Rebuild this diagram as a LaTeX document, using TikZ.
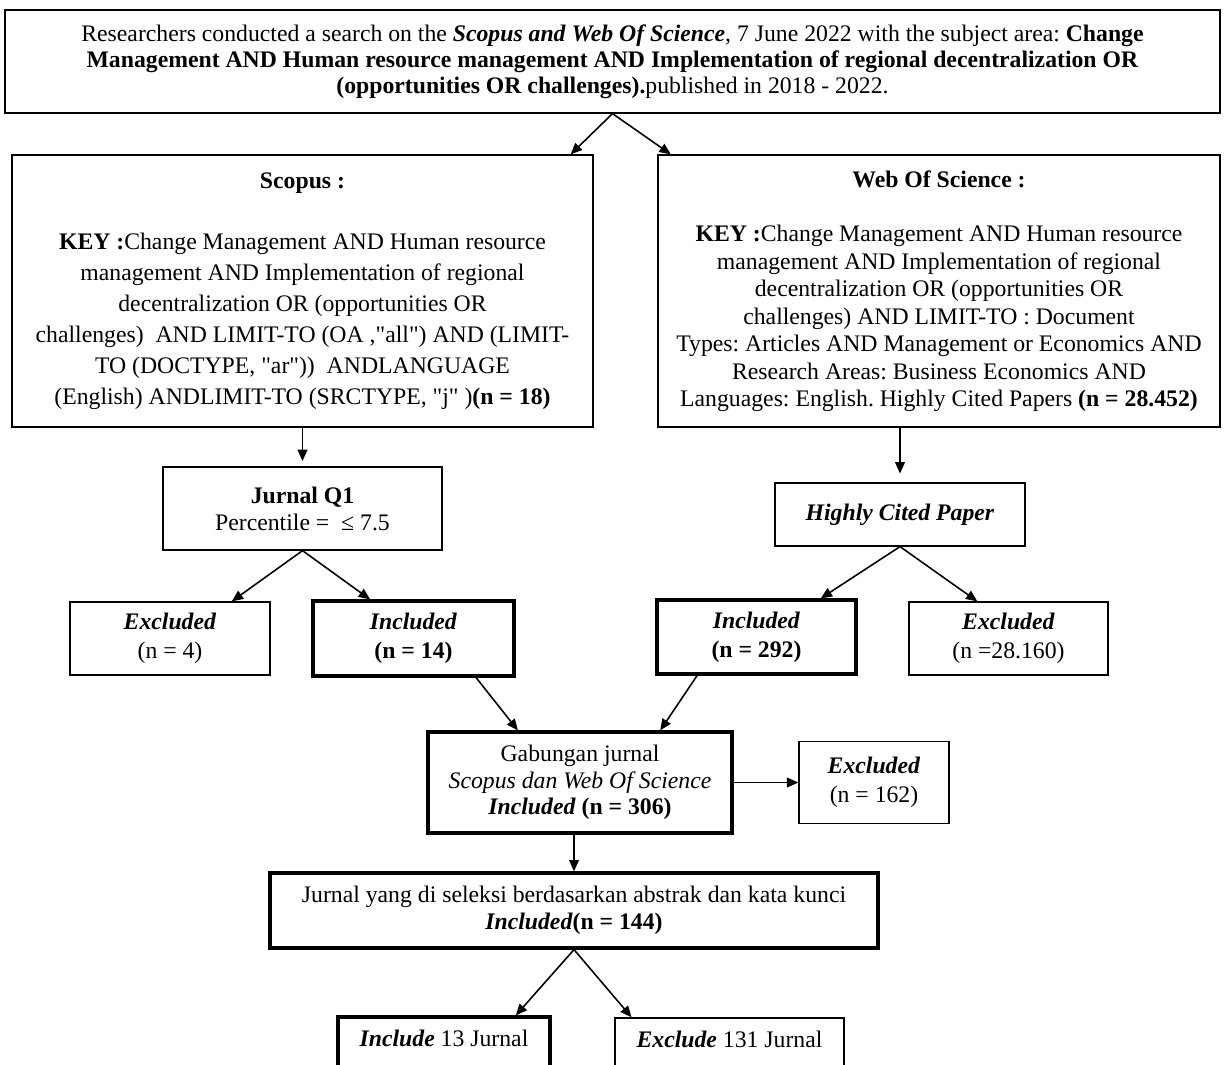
\documentclass[tikz,border=0pt]{standalone}
\usepackage{fontspec}
\setmainfont{Liberation Serif}[Ligatures=TeXOff]
\usepackage{tikz}
\usetikzlibrary{positioning}
\usetikzlibrary{arrows.meta}
\frenchspacing
\tikzstyle{box} = [rectangle, draw=black, line width=0.7pt, text centered, align=center, inner sep=2pt, font=\fontsize{13.5}{15.4}\selectfont]
\tikzstyle{boldbox} = [box, line width=1.8pt]
\tikzstyle{arrow} = [line width=0.9pt,->,>={Triangle[length=6.5pt,width=5.5pt]}]

\begin{document}
\begin{tikzpicture}[node distance=1cm]
    \useasboundingbox (0,0) rectangle (24.5,-21.3);
    \fill [white] (0,0) rectangle (24.5,-21.3);
        \node (search) [box, minimum width=24.3cm, minimum height=2.06cm, font=\fontsize{13.5}{14.8}\selectfont] at (12.25,-1.23) {Researchers conducted a search on the \textbf{\textit{Scopus and Web Of Science}}, 7 June 2022 with the subject area: \textbf{Change}\\ \textbf{Management AND Human resource management AND Implementation of regional decentralization OR}\\ \textbf{(opportunities OR challenges).}published in 2018 - 2022.};
        \node (scopus) [box, below of=search, xshift=-6.2cm, yshift=-3.59cm, minimum width=11.62cm, minimum height=5.44cm, font=\fontsize{13.5}{17.6}\selectfont] {\textbf{Scopus :}\\ ~\\ \textbf{KEY :}Change Management AND Human resource\\ management AND Implementation of regional\\ decentralization OR (opportunities OR\\ challenges)\ \ AND LIMIT-TO (OA ,"all") AND (LIMIT-\\ TO (DOCTYPE, "ar"))\ \ ANDLANGUAGE\\ (English) ANDLIMIT-TO (SRCTYPE, "j" )\textbf{(n = 18)}};
        \node (wos) [box, right of=scopus, xshift=11.73cm, minimum width=11.24cm, minimum height=5.44cm, font=\fontsize{13.5}{15.6}\selectfont] {\textbf{Web Of Science :}\\ ~\\ \textbf{KEY :}Change Management AND Human resource\\ management AND Implementation of regional\\ decentralization OR (opportunities OR\\ challenges) AND LIMIT-TO : Document\\ Types: Articles AND Management or Economics AND\\ Research Areas: Business Economics AND\\ Languages: English. Highly Cited Papers \textbf{(n = 28.452)}};
        \node (q1) [box, below of=scopus, yshift=-3.35cm, minimum width=5.58cm, minimum height=1.66cm] {\textbf{Jurnal Q1}\\ Percentile = \ ≤ 7.5};
        \node (cited) [box, below of=wos, xshift=-0.78cm, yshift=-3.47cm, minimum width=5cm, minimum height=1.26cm] {\textbf{\textit{Highly Cited Paper}}};
        \node (excScopus) [box, below of=q1, xshift=-2.65cm, yshift=-1.6cm, minimum width=4cm, minimum height=1.46cm, font=\fontsize{13.5}{16.5}\selectfont] {\textbf{\textit{Excluded}}\\ (n = 4)};
        \node (incScopus) [boldbox, below of=q1, xshift=2.22cm, yshift=-1.6cm, minimum width=4.02cm, minimum height=1.5cm, font=\fontsize{13.5}{16.5}\selectfont] {\textbf{\textit{Included}}\\ \textbf{(n = 14)}};
        \node (incWos) [boldbox, below of=cited, xshift=-2.87cm, yshift=-1.45cm, minimum width=3.98cm, minimum height=1.48cm, font=\fontsize{13.5}{16.5}\selectfont] {\textbf{\textit{Included}}\\ \textbf{(n = 292)}};
        \node (excWos) [box, below of=cited, xshift=2.17cm, yshift=-1.48cm, minimum width=3.98cm, minimum height=1.46cm, font=\fontsize{13.5}{16.5}\selectfont] {\textbf{\textit{Excluded}}\\ (n =28.160)};
        \node (merged) [boldbox, below of=incScopus, xshift=3.33cm, yshift=-1.88cm, minimum width=6.08cm, minimum height=2.02cm, font=\fontsize{13.5}{15.1}\selectfont] {Gabungan jurnal\\ \textit{Scopus dan Web Of Science}\\ \textbf{\textit{Included} (n = 306)}};
        \node (excMerged) [box, right of=merged, xshift=4.88cm, minimum width=3cm, minimum height=1.64cm, font=\fontsize{13.5}{16.5}\selectfont] {\textbf{\textit{Excluded}}\\ (n = 162)};
        \node (abstract) [boldbox, below of=merged, xshift=-0.12cm, yshift=-1.56cm, minimum width=12.16cm, minimum height=1.5cm] {Jurnal yang di seleksi berdasarkan abstrak dan kata kunci\\ \textbf{\textit{Included}(n = 144)}};
        \node (include) [boldbox, below of=abstract, xshift=-2.6cm, yshift=-1.83cm, minimum width=4.24cm, minimum height=1.4cm] {\textbf{\textit{Include}} 13 Jurnal\\ ~};
        \node (exclude) [box, below of=abstract, xshift=3.11cm, yshift=-1.85cm, minimum width=4.58cm, minimum height=1.4cm] {\textbf{\textit{Exclude}} 131 Jurnal\\ ~};

        \draw [arrow] (search.south) -- (scopus.27);
        \draw [arrow] (search.south) -- (wos.153);
        \draw [arrow, shorten >=3pt] (scopus) -- (q1);
        \draw [arrow, shorten >=5pt] (wos.south -| cited.north) -- (cited.north);
        \draw [arrow] (q1.south) -- (excScopus.31);
        \draw [arrow] (q1.south) -- (incScopus.138);
        \draw [arrow] (cited.south) -- (incWos.31);
        \draw [arrow] (cited.south) -- (excWos.130);
        \draw [arrow] (incScopus.-32) -- (merged.140);
        \draw [arrow] (incWos.-147) -- (merged.33);
        \draw [arrow] (merged) -- (excMerged);
        \draw [arrow] (merged.south -| abstract.north) -- (abstract.north);
        \draw [arrow] (abstract.south) -- (include.27);
        \draw [arrow] (abstract.south) -- (exclude.160);

    \end{tikzpicture}
\end{document}
